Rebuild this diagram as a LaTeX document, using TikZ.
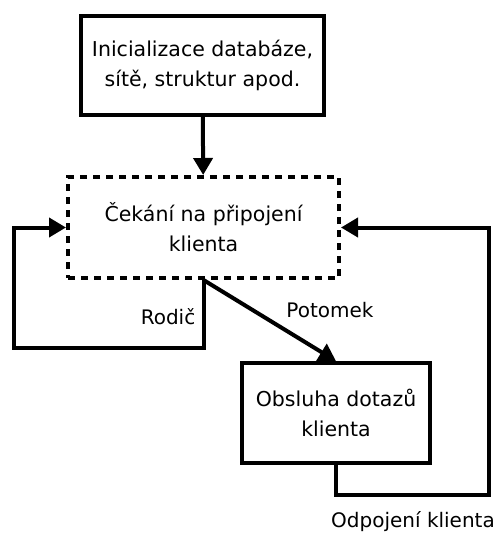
\documentclass[tikz,border=0pt]{standalone}
\usepackage{fontspec}
\setmainfont{DejaVu Sans}
\usetikzlibrary{arrows.meta,positioning}

\begin{document}
\begin{tikzpicture}[x=1pt,y=-1pt,->,>={Triangle[length=17pt,width=19pt]},
                    line width=4pt,
                    box/.style={draw,rectangle,align=center,inner sep=0pt,
                                font=\fontsize{20.5}{30}\selectfont},
                    lbl/.style={font=\fontsize{20}{24}\selectfont,inner sep=0pt}
                   ]
  \useasboundingbox (0,0) rectangle (495,533);

  \node[box,minimum width=243pt,minimum height=99pt] (init) at (202.5,65.5)
       {Inicializace databáze,\\sítě, struktur apod.};
  \node[box,dash pattern=on 7pt off 6pt,minimum width=271pt,minimum height=101pt]
       (wait) at (203.5,227.5) {Čekání na připojení\\klienta};
  \node[box,minimum width=188pt,minimum height=100pt] (serve) at (336,413)
       {Obsluha dotazů\\klienta};

  \coordinate (lc) at (14,348);
  \coordinate (rc) at (489,495);

  \node[lbl] (rodic) at (168,317) {Rodič};
  \node[lbl] (potomek) at (330,310) {Potomek};
  \node[lbl] (odpojeni) at (413,522) {Odpojení klienta};

  \path%
    (init) edge (wait)
    (wait.south) edge (serve.north);
  \draw (wait.south) |- (lc) |- (wait.west);
  \draw (serve.south) |- (rc) |- (wait.east);
\end{tikzpicture}
\end{document}
